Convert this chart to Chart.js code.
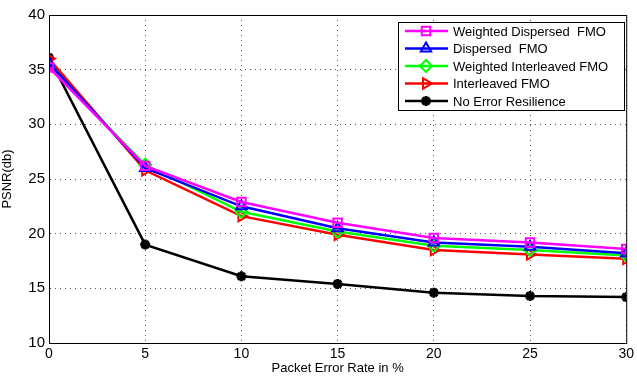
<!DOCTYPE html>
<html>
<head>
<meta charset="utf-8">
<script src="https://cdn.jsdelivr.net/npm/chart.js@4.4.1/dist/chart.umd.min.js"></script>
<style>
  html, body { margin: 0; padding: 0; background: #fff; }
  #wrap { width: 637px; height: 376px; }
</style>
</head>
<body>
<div id="wrap"><canvas id="chart"></canvas></div>
<script>
// Packet error rate (%)
const errorRates = [0, 5, 10, 15, 20, 25, 30];

// PSNR (db) per scheme
const weightedDispersed = [35.2, 26.2, 22.9, 21.0, 19.6, 19.2, 18.6];
const dispersed = [35.6, 26.0, 22.5, 20.5, 19.2, 18.8, 18.2];
const weightedInterleaved = [35.3, 26.3, 22.0, 20.2, 18.9, 18.5, 18.0];
const interleaved = [36.0, 25.8, 21.6, 19.9, 18.5, 18.1, 17.7];
const noResilience = [36.1, 19.0, 16.1, 15.4, 14.6, 14.3, 14.2];

const xTicks = [0, 5, 10, 15, 20, 25, 30];
const yTicks = [10, 15, 20, 25, 30, 35, 40];

const FONT = 'Liberation Sans, Arial, sans-serif';

function series( label, values, color, pointStyle, rotation ) {
  return {
    label,
    data: values.map( ( v, i ) => ( { x: errorRates[i], y: v } ) ),
    borderColor: color,
    backgroundColor: 'transparent',
    borderWidth: 2.5,
    pointStyle,
    rotation: rotation || 0,
    pointRadius: 6,
    pointBorderWidth: 2,
    pointBorderColor: color,
    pointBackgroundColor: 'rgba(0,0,0,0)',
    tension: 0
  };
}

const datasets = [
  series( 'Weighted Dispersed  FMO', weightedDispersed, '#ff00ff', 'rect' ),
  series( 'Dispersed  FMO', dispersed, '#0000ff', 'triangle' ),
  series( 'Weighted Interleaved FMO', weightedInterleaved, '#00ff00', 'rectRot' ),
  series( 'Interleaved FMO', interleaved, '#ff0000', 'triangle', 90 ),
  series( 'No Error Resilience', noResilience, '#000000', 'star' )
];
datasets[4].pointRadius = 5;
datasets[4].pointBorderWidth = 3;

// Box around the plot and a MATLAB style legend inside it
const boxAndLegend = {
  id: 'boxAndLegend',
  afterDraw( chart ) {
    const { ctx, chartArea } = chart;
    ctx.save();
    ctx.strokeStyle = '#000';
    ctx.lineWidth = 1;
    ctx.setLineDash( [] );
    ctx.strokeRect( chartArea.left + 0.5, chartArea.top + 0.5,
      chartArea.right - chartArea.left, chartArea.bottom - chartArea.top );

    const lx = 398, ly = 22, lw = 226, lh = 88;
    ctx.fillStyle = '#fff';
    ctx.fillRect( lx, ly, lw, lh );
    ctx.strokeRect( lx + 0.5, ly + 0.5, lw, lh );

    ctx.font = '13px ' + FONT;
    ctx.textBaseline = 'middle';
    chart.data.datasets.forEach( ( ds, i ) => {
      const y = ly + 9 + i * 17.5;
      ctx.strokeStyle = ds.borderColor;
      ctx.lineWidth = 2.5;
      ctx.beginPath();
      ctx.moveTo( 405, y );
      ctx.lineTo( 448, y );
      ctx.stroke();
      ctx.fillStyle = 'rgba(0,0,0,0)';
      ctx.lineWidth = ds.pointBorderWidth;
      Chart.helpers.drawPoint( ctx, {
        pointStyle: ds.pointStyle,
        rotation: ds.rotation,
        radius: ds.pointRadius,
        borderWidth: ds.pointBorderWidth
      }, 426, y );
      ctx.fillStyle = '#000';
      ctx.fillText( ds.label, 453, y + 1 );
    } );
    ctx.restore();
  }
};

const grid = {
  color: '#555',
  lineWidth: 1,
  drawTicks: false
};

new Chart( document.getElementById( 'chart' ), {
  type: 'line',
  data: { datasets },
  options: {
    responsive: true,
    maintainAspectRatio: false,
    animation: false,
    layout: { padding: { top: 15, right: 8, left: 0, bottom: 0 } },
    plugins: {
      legend: { display: false },
      tooltip: { enabled: false }
    },
    scales: {
      x: {
        type: 'linear',
        min: 0,
        max: 30,
        afterBuildTicks: axis => { axis.ticks = xTicks.map( v => ( { value: v } ) ); },
        afterFit: axis => { axis.height = 33; },
        grid: grid,
        border: { display: true, color: '#000', dash: [1, 4] },
        ticks: { color: '#000', padding: 3, font: { family: FONT, size: 14 } },
        title: {
          display: true,
          text: 'Packet Error Rate in %',
          color: '#000',
          padding: { top: 0, bottom: 0 },
          font: { family: FONT, size: 13 }
        }
      },
      y: {
        min: 10,
        max: 40,
        afterBuildTicks: axis => { axis.ticks = yTicks.map( v => ( { value: v } ) ); },
        afterFit: axis => { axis.width = 49; },
        grid: grid,
        border: { display: true, color: '#000', dash: [1, 4] },
        ticks: { color: '#000', padding: 4, font: { family: FONT, size: 15 } },
        title: {
          display: true,
          text: 'PSNR(db)',
          color: '#000',
          padding: { top: 0, bottom: 0 },
          font: { family: FONT, size: 13 }
        }
      }
    }
  },
  plugins: [ boxAndLegend ]
} );
</script>
</body>
</html>
